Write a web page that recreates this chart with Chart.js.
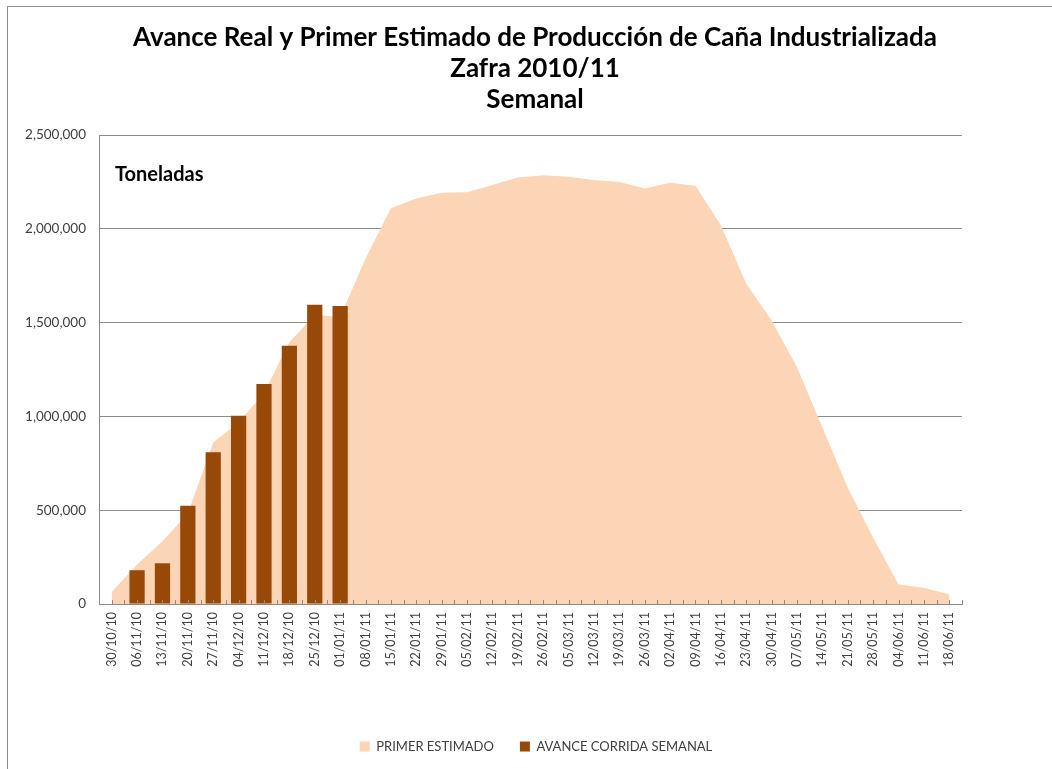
<!DOCTYPE html>
<html>
<head>
<meta charset="utf-8">
<script src="https://cdn.jsdelivr.net/npm/chart.js@4.4.1/dist/chart.umd.min.js"></script>
<style>
  html, body { margin: 0; padding: 0; background: #fff; overflow: hidden; }
  #wrap { position: relative; width: 1052px; height: 769px; }
  #frame { position: absolute; left: 7px; top: 6px; width: 1100px; height: 800px; border: 1px solid #8c8c8c; box-sizing: border-box; }
  canvas { position: absolute; left: 0; top: 0; }
</style>
</head>
<body>
<div id="wrap">
  <div id="frame"></div>
  <canvas id="c" width="1052" height="769"></canvas>
</div>
<script>
const categories = ["30/10/10","06/11/10","13/11/10","20/11/10","27/11/10","04/12/10","11/12/10","18/12/10","25/12/10","01/01/11",
  "08/01/11","15/01/11","22/01/11","29/01/11","05/02/11","12/02/11","19/02/11","26/02/11","05/03/11","12/03/11",
  "19/03/11","26/03/11","02/04/11","09/04/11","16/04/11","23/04/11","30/04/11","07/05/11","14/05/11","21/05/11",
  "28/05/11","04/06/11","11/06/11","18/06/11"];
const primerEstimado = [64000, 210000, 335000, 482000, 861000, 968000, 1125000, 1395000, 1540000, 1530000,
  1840000, 2110000, 2162000, 2192000, 2195000, 2233000, 2274000, 2286000, 2277000, 2260000,
  2250000, 2215000, 2246000, 2229000, 2019000, 1707000, 1511000, 1262000, 941000, 620000,
  353000, 104000, 86000, 50000];
const avanceCorrida = [null, 180000, 217000, 524000, 809000, 1003000, 1173000, 1376000, 1595000, 1588000,
  null, null, null, null, null, null, null, null, null, null,
  null, null, null, null, null, null, null, null, null, null,
  null, null, null, null];
const yTicks = [0, 500000, 1000000, 1500000, 2000000, 2500000];
const titleLines = ["Avance Real y Primer Estimado de Producción de Caña Industrializada", "Zafra 2010/11", "Semanal"];
const unitLabel = "Toneladas";

const FONT = "Lato";
const GRID = "#8c8c8c";

const extras = {
  id: "extras",
  afterDraw(chart) {
    const ctx = chart.ctx, a = chart.chartArea, xs = chart.scales.x;
    const n = categories.length;
    const step = (xs.getPixelForValue(1) - xs.getPixelForValue(0)) / 2;
    const x0 = xs.getPixelForValue(0) - step;
    ctx.save();
    ctx.strokeStyle = GRID;
    ctx.lineWidth = 1;
    ctx.beginPath();
    for (let i = 0; i <= 2 * n; i++) {
      const x = Math.round(x0 + i * step) + 0.5;
      ctx.moveTo(x, a.bottom);
      ctx.lineTo(x, a.bottom - 4);
    }
    ctx.stroke();
    // title
    ctx.fillStyle = "#000";
    ctx.textAlign = "center";
    ctx.textBaseline = "middle";
    ctx.font = "bold 26px " + FONT;
    const cx = chart.width / 2 + 9;
    const lineGap = 31;
    titleLines.forEach((t, i) => ctx.fillText(t, cx, 38 + i * lineGap));
    // unit label
    ctx.font = "bold 20px " + FONT;
    ctx.textAlign = "left";
    ctx.fillText(unitLabel, a.left + 16, a.top + 40);
    ctx.restore();
  }
};

new Chart(document.getElementById("c"), {
  type: "bar",
  data: {
    labels: categories,
    datasets: [
      {
        type: "line",
        label: "PRIMER ESTIMADO",
        data: primerEstimado,
        fill: "origin",
        backgroundColor: "#FBD5B5",
        borderColor: "#FBD5B5",
        borderWidth: 0,
        pointRadius: 0,
        tension: 0,
        order: 2
      },
      {
        type: "bar",
        label: "AVANCE CORRIDA SEMANAL",
        data: avanceCorrida,
        backgroundColor: "#984807",
        borderWidth: 0,
        categoryPercentage: 1,
        barPercentage: 0.6,
        order: 1
      }
    ]
  },
  options: {
    responsive: false,
    animation: false,
    devicePixelRatio: 1,
    layout: { padding: { left: 20, right: 0, top: 135, bottom: 6 } },
    plugins: {
      title: { display: false },
      legend: {
        position: "bottom",
        labels: {
          color: "#404040",
          font: { family: FONT, size: 13 },
          boxWidth: 10,
          boxHeight: 10,
          padding: 26,
          sort: (a, b) => a.datasetIndex - b.datasetIndex
        }
      },
      tooltip: { enabled: false }
    },
    scales: {
      x: {
        offset: true,
        grid: { display: false, drawTicks: false },
        border: { display: true, color: GRID },
        ticks: {
          color: "#404040",
          font: { family: FONT, size: 12.5 },
          minRotation: 90,
          maxRotation: 90,
          autoSkip: false,
          padding: 8
        },
        afterFit(s) { s.height = 110; }
      },
      y: {
        position: "left",
        min: 0,
        max: 2500000,
        afterBuildTicks(s) { s.ticks = yTicks.map(v => ({ value: v })); },
        grid: { color: GRID, drawTicks: false },
        border: { display: true, color: GRID },
        ticks: {
          color: "#404040",
          font: { family: FONT, size: 13.5 },
          padding: 13,
          callback: v => v.toLocaleString("en-US")
        },
        afterFit(s) { s.width = 79; }
      },
      yRight: {
        type: "linear",
        position: "right",
        display: true,
        grid: { display: false, drawTicks: false },
        border: { display: false },
        ticks: { display: false },
        afterFit(s) { s.width = 90; }
      }
    }
  },
  plugins: [extras]
});
</script>
</body>
</html>
